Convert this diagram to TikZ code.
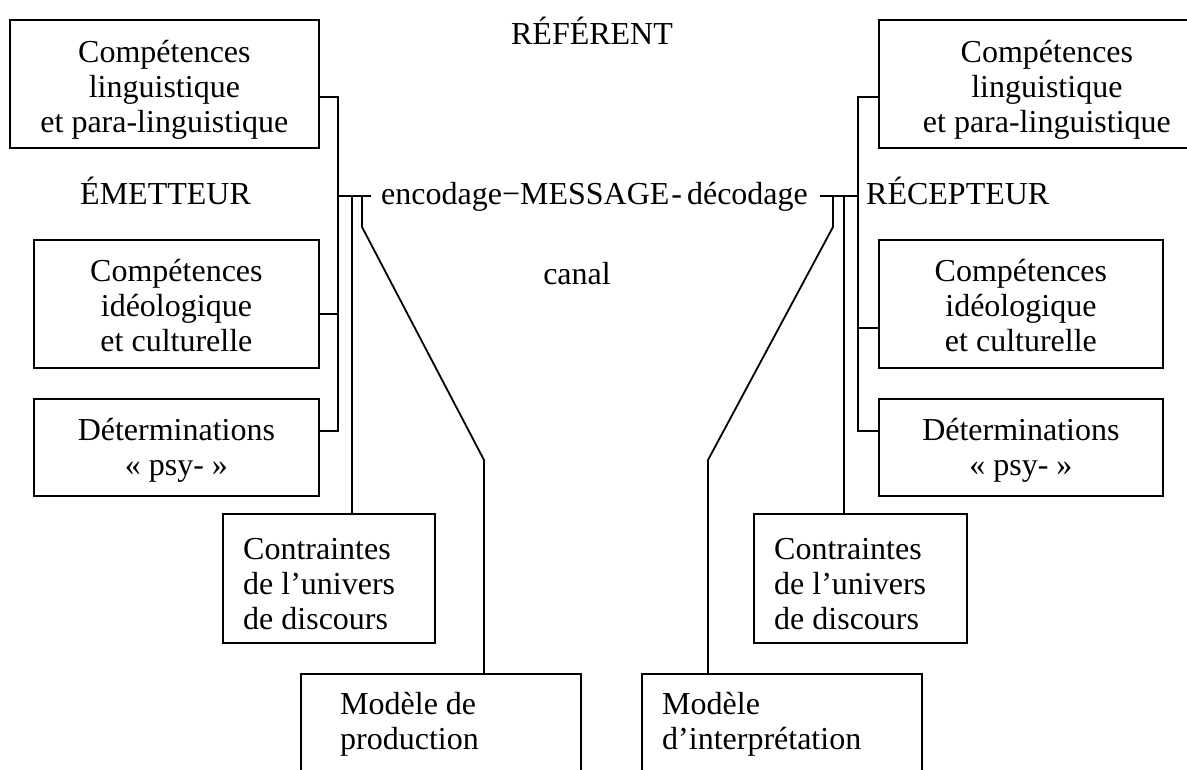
\documentclass[tikz,border=0pt]{standalone}
\usepackage{fontspec}
\setmainfont{Liberation Serif}
\begin{document}
\begin{tikzpicture}[x=1pt,y=-1pt,
  txt/.style={font=\fontsize{32}{35}\selectfont,inner sep=0pt},
  frame/.style={draw,line width=1.8pt,anchor=north west,inner sep=0pt},
  ctext/.style={txt,align=center},
  ltext/.style={txt,align=left,anchor=west},
  lbl/.style={txt},
  conn/.style={line width=1.8pt}]
\useasboundingbox (0,0) rectangle (1187,770);
\clip (0,0) rectangle (1187,770);
% left boxes
\node[frame,minimum width=309pt,minimum height=128pt] (b1) at (9,19) {};
\node[ctext] (b1t) at ([yshift=-6pt]b1.center) {Compétences\\linguistique\\et para-linguistique};
\node[frame,minimum width=285pt,minimum height=128pt] (b2) at (33,239) {};
\node[ctext] (b2t) at ([yshift=-2pt]b2.center) {Compétences\\idéologique\\et culturelle};
\node[frame,minimum width=285pt,minimum height=97pt] (b3) at (33,398) {};
\node[ctext] (b3t) at ([yshift=-3pt]b3.center) {Déterminations\\« psy- »};
\node[frame,minimum width=212pt,minimum height=129pt] (c1) at (222,513) {};
\node[ltext] (c1t) at ([xshift=21pt,yshift=-6pt]c1.west) {Contraintes\\de l’univers\\de discours};
\node[frame,minimum width=280pt,minimum height=100pt] (m1) at (300,673) {};
\node[ltext] (m1t) at ([xshift=40pt]m1.west) {Modèle de\\production};
% right boxes
\node[frame,minimum width=328pt,minimum height=128pt] (r1) at (878,19) {};
\node[ctext] (r1t) at ([xshift=4pt,yshift=-6pt]r1.center) {Compétences\\linguistique\\et para-linguistique};
\node[frame,minimum width=284pt,minimum height=128pt] (r2) at (878,239) {};
\node[ctext] (r2t) at ([yshift=-2pt]r2.center) {Compétences\\idéologique\\et culturelle};
\node[frame,minimum width=284pt,minimum height=97pt] (r3) at (878,398) {};
\node[ctext] (r3t) at ([yshift=-3pt]r3.center) {Déterminations\\« psy- »};
\node[frame,minimum width=213pt,minimum height=129pt] (c2) at (753,513) {};
\node[ltext] (c2t) at ([xshift=21pt,yshift=-6pt]c2.west) {Contraintes\\de l’univers\\de discours};
\node[frame,minimum width=280pt,minimum height=100pt] (m2) at (641,673) {};
\node[ltext] (m2t) at ([xshift=21pt]m2.west) {Modèle\\d’interprétation};
% labels
\node[lbl,anchor=base] (ref) at (592,45) {RÉFÉRENT};
\node[lbl,anchor=base west] (em) at (80,205) {ÉMETTEUR};
\node[lbl,anchor=base west] (rec) at (866,205) {RÉCEPTEUR};
\node[lbl,anchor=base west] (msg) at (381,205) {encodage−MESSAGE\hspace{2pt}-\hspace{5pt}décodage};
\node[lbl,anchor=base] (can) at (577,285) {canal};
% junction coordinates
\coordinate (jL) at (338,196);
\coordinate (eL) at (371,196);
\coordinate (jR) at (858,196);
\coordinate (eR) at (820,196);
% left connectors
\draw[conn] (b1.east |- 0,97) -| (338,431) -- (b3.east |- 0,431);
\draw[conn] (b2.east |- 0,314) -- (338,314);
\draw[conn] (jL) -- (eL);
\draw[conn] (352,196) -- (352,0 |- c1.north);
\draw[conn] (362,196) -- (362,227) -- (484,460) -- (484,0 |- m1.north);
% right connectors
\draw[conn] (r1.west |- 0,97) -| (858,431) -- (r3.west |- 0,431);
\draw[conn] (r2.west |- 0,328) -- (858,328);
\draw[conn] (jR) -- (eR);
\draw[conn] (844,196) -- (844,0 |- c2.north);
\draw[conn] (833,196) -- (833,227) -- (708,460) -- (708,0 |- m2.north);
\end{tikzpicture}
\end{document}
